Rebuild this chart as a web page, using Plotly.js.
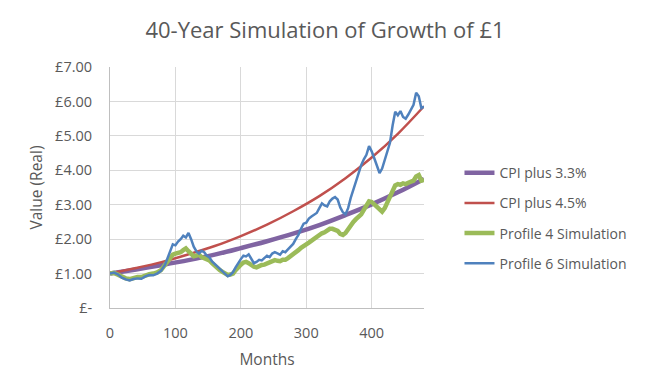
<!DOCTYPE html>
<html>
<head>
<meta charset="utf-8">
<script src="https://cdn.plot.ly/plotly-3.0.1.min.js"></script>
<style>html,body{margin:0;padding:0;background:#fff;}#chart{width:650px;height:390px;}</style>
</head>
<body>
<div id="chart"></div>
<script>
// Smooth reference curves (every 40 months)
const monthsSmooth = [0, 40, 80, 120, 160, 200, 240, 280, 320, 360, 400, 440, 480];
const cpi33 = [1.00, 1.12, 1.25, 1.39, 1.55, 1.74, 1.94, 2.16, 2.41, 2.70, 3.01, 3.36, 3.75];
const cpi45 = [1.00, 1.16, 1.34, 1.56, 1.80, 2.09, 2.42, 2.81, 3.25, 3.77, 4.37, 5.06, 5.86];

// Simulations
const monthsSim = [0,6,12,18,24,30,36,42,48,54,60,66,72,78,84,88,92,96,100,104,108,112,116,120,124,128,132,136,140,144,148,152,156,160,164,168,172,176,180,184,188,192,196,200,204,208,212,216,220,224,228,232,236,240,244,248,252,256,260,264,268,272,276,280,284,288,292,296,300,304,308,312,316,320,324,328,332,336,340,344,348,352,356,360,364,368,372,376,380,384,388,392,396,400,404,408,412,416,420,424,428,432,436,440,444,448,452,456,460,464,468,472,476,480];
const profile4 = [1.00,1.02,0.97,0.90,0.86,0.84,0.88,0.90,0.90,0.95,0.98,1.00,1.03,1.10,1.25,1.38,1.48,1.55,1.58,1.60,1.62,1.68,1.73,1.65,1.56,1.50,1.52,1.55,1.48,1.44,1.42,1.38,1.30,1.22,1.15,1.10,1.05,1.00,0.96,0.97,1.00,1.10,1.20,1.26,1.32,1.34,1.30,1.24,1.20,1.18,1.22,1.25,1.26,1.30,1.32,1.36,1.39,1.37,1.36,1.40,1.40,1.45,1.50,1.56,1.60,1.68,1.75,1.82,1.85,1.90,1.96,2.00,2.05,2.12,2.17,2.20,2.24,2.30,2.30,2.28,2.24,2.15,2.12,2.18,2.30,2.40,2.50,2.58,2.66,2.72,2.85,2.95,3.10,3.08,3.00,2.94,2.85,2.80,2.90,3.05,3.22,3.40,3.56,3.60,3.58,3.62,3.60,3.64,3.68,3.70,3.82,3.86,3.70,3.72];
const profile6 = [1.00,1.03,0.98,0.88,0.83,0.80,0.84,0.86,0.85,0.92,0.96,0.95,1.00,1.08,1.25,1.45,1.65,1.85,1.82,1.93,2.00,2.10,2.05,2.18,2.00,1.78,1.65,1.58,1.66,1.62,1.52,1.47,1.35,1.28,1.20,1.12,1.05,0.98,0.92,0.96,1.04,1.18,1.32,1.42,1.52,1.50,1.56,1.42,1.30,1.34,1.40,1.38,1.46,1.52,1.48,1.58,1.62,1.58,1.55,1.65,1.62,1.70,1.78,1.86,2.00,2.12,2.30,2.45,2.48,2.60,2.66,2.70,2.76,2.90,3.04,2.98,2.95,3.10,3.18,3.22,3.15,2.92,2.78,2.72,2.90,3.20,3.45,3.70,3.95,4.15,4.32,4.45,4.70,4.55,4.35,4.12,3.92,4.05,4.30,4.55,4.80,5.30,5.70,5.60,5.72,5.55,5.50,5.62,5.75,5.90,6.25,6.15,5.80,5.85];

const yTickVals = [0, 1, 2, 3, 4, 5, 6, 7];
const yTickText = ['£-', '£1.00', '£2.00', '£3.00', '£4.00', '£5.00', '£6.00', '£7.00'];
const xTickVals = [0, 100, 200, 300, 400];

const FONT = 'Open Sans, sans-serif';
const GREY = '#595959';

const traces = [
  {x: monthsSmooth, y: cpi33, name: 'CPI plus 3.3%', type: 'scatter', mode: 'lines',
   line: {color: '#8064A2', width: 4.5, shape: 'spline'}, legendgroup: 'a'},
  {x: monthsSmooth, y: cpi45, name: 'CPI plus 4.5%', type: 'scatter', mode: 'lines',
   line: {color: '#C0504D', width: 2.5, shape: 'spline'}, legendgroup: 'b'},
  {x: monthsSim, y: profile4, name: 'Profile 4 Simulation', type: 'scatter', mode: 'lines',
   line: {color: '#9BBB59', width: 4.5}, legendgroup: 'c'},
  {x: monthsSim, y: profile6, name: 'Profile 6 Simulation', type: 'scatter', mode: 'lines',
   line: {color: '#4F81BD', width: 2.5}, legendgroup: 'd'}
];

const layout = {
  width: 650, height: 390,
  paper_bgcolor: '#fff', plot_bgcolor: '#fff',
  margin: {l: 110, r: 226, t: 67, b: 82},
  font: {family: FONT, color: GREY, size: 14},
  title: {text: '40-Year Simulation of Growth of £1', font: {family: FONT, size: 22, color: GREY},
          x: 0.5, xref: 'container', xanchor: 'center', y: 0.923, yref: 'container', yanchor: 'middle'},
  xaxis: {
    range: [0, 480], tickvals: xTickVals, showgrid: true, gridcolor: '#d9d9d9', gridwidth: 1,
    showline: true, linecolor: '#bfbfbf', linewidth: 1, zeroline: false, ticks: '',
    ticklabelstandoff: 12, tickfont: {size: 14.5, color: GREY},
    title: {text: 'Months', font: {size: 15.5, color: GREY}, standoff: 12}
  },
  yaxis: {
    range: [0, 7], tickvals: yTickVals, ticktext: yTickText, showgrid: true, gridcolor: '#d9d9d9', gridwidth: 1,
    showline: true, linecolor: '#bfbfbf', linewidth: 1, zeroline: false, ticks: '',
    ticklabelstandoff: 14, tickfont: {size: 14.5, color: GREY},
    title: {text: 'Value (Real)', font: {size: 15.5, color: GREY}, standoff: 8}
  },
  showlegend: true,
  legend: {x: 1.113, xanchor: 'left', y: 0.373, yanchor: 'middle', traceorder: 'grouped', tracegroupgap: 9,
           font: {size: 14, color: GREY}, bgcolor: 'rgba(0,0,0,0)'}
};

Plotly.newPlot('chart', traces, layout, {displayModeBar: false, staticPlot: true});
</script>
</body>
</html>
